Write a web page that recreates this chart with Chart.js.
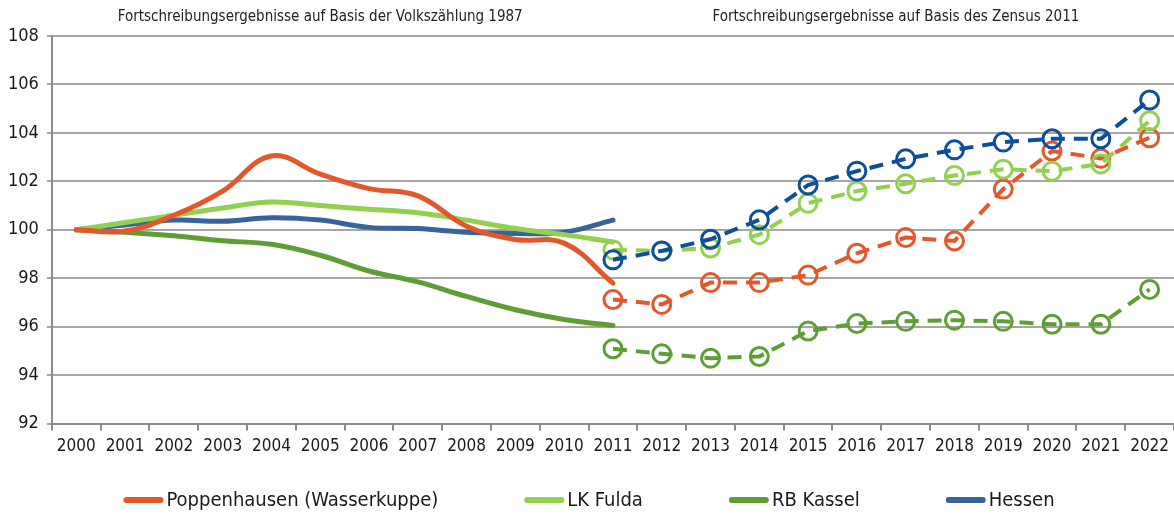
<!DOCTYPE html>
<html>
<head>
<meta charset="utf-8">
<script src="https://cdn.jsdelivr.net/npm/chart.js@4.4.1/dist/chart.umd.min.js"></script>
<style>
  html, body { margin: 0; padding: 0; background: #fff; overflow: hidden; width: 1174px; height: 516px; }
  /* etwas breiter als das Fenster, damit die Gitterlinien bis zum rechten Rand gehen */
  #wrap { width: 1186px; height: 516px; position: relative; }
  canvas { display: block; }
</style>
</head>
<body>
<div id="wrap"><canvas id="myChart"></canvas></div>
<script>
// Jahre (Kategorien)
const jahre = ['2000','2001','2002','2003','2004','2005','2006','2007','2008','2009','2010','2011',
               '2012','2013','2014','2015','2016','2017','2018','2019','2020','2021','2022'];

// Fortschreibung auf Basis der Volkszählung 1987 (2000-2011)
const poppenhausen87 = [100, 99.95, 100.6, 101.6, 103.05, 102.3, 101.7, 101.4, 100.15, 99.6, 99.45, 97.8];
const fulda87        = [100, 100.3, 100.6, 100.9, 101.15, 101.0, 100.85, 100.7, 100.4, 100.05, 99.8, 99.5];
const kassel87       = [100, 99.9, 99.75, 99.55, 99.4, 98.95, 98.3, 97.85, 97.25, 96.7, 96.3, 96.05];
const hessen87       = [100, 100.2, 100.4, 100.35, 100.5, 100.4, 100.1, 100.05, 99.9, 99.85, 99.9, 100.4];

// Fortschreibung auf Basis des Zensus 2011 (2011-2022)
const poppenhausen11 = [97.12, 96.92, 97.82, 97.82, 98.13, 99.03, 99.68, 99.54, 101.68, 103.25, 102.95, 103.8];
const fulda11        = [99.17, 99.13, 99.25, 99.8, 101.1, 101.6, 101.9, 102.24, 102.5, 102.42, 102.72, 104.5];
const kassel11       = [95.09, 94.88, 94.7, 94.77, 95.82, 96.13, 96.22, 96.27, 96.22, 96.1, 96.1, 97.54];
const hessen11       = [98.76, 99.13, 99.61, 100.41, 101.85, 102.42, 102.93, 103.3, 103.62, 103.76, 103.76, 105.36];

const titel87 = 'Fortschreibungsergebnisse auf Basis der Volkszählung 1987';
const titel11 = 'Fortschreibungsergebnisse auf Basis des Zensus 2011';

const schrift = "'Liberation Sans Narrow', 'DejaVu Sans Condensed', 'Liberation Sans', Arial, sans-serif";
const fensterBreite = 1174;

// 2000-2011 vorne, Rest leer ; 2011-2022 hinten
const vorne = (arr) => arr.concat(new Array(jahre.length - arr.length).fill(null));
const hinten = (arr) => new Array(jahre.length - arr.length).fill(null).concat(arr);

function linie(label, werte, farbe) {
  return {
    label: label,
    data: vorne(werte),
    borderColor: farbe,
    backgroundColor: farbe,
    borderWidth: 5,
    borderCapStyle: 'round',
    tension: 0.4,
    pointRadius: 0,
    inLegende: true
  };
}

function gestrichelt(label, werte, farbe) {
  return {
    label: label,
    data: hinten(werte),
    borderColor: farbe,
    backgroundColor: 'rgba(255,255,255,0)',
    borderWidth: 4,
    borderDash: [14, 9],
    tension: 0,
    pointRadius: 9,
    pointBorderWidth: 3,
    pointBorderColor: farbe,
    pointBackgroundColor: 'rgba(255,255,255,0)'
  };
}

const data = {
  labels: jahre,
  datasets: [
    linie('Poppenhausen (Wasserkuppe)', poppenhausen87, '#e2582b'),
    linie('LK Fulda', fulda87, '#92d050'),
    linie('RB Kassel', kassel87, '#5e9e37'),
    linie('Hessen', hessen87, '#38639b'),
    gestrichelt('Hessen 2011', hessen11, '#0d4f9a'),
    gestrichelt('LK Fulda 2011', fulda11, '#92d050'),
    gestrichelt('Poppenhausen 2011', poppenhausen11, '#e2582b'),
    gestrichelt('RB Kassel 2011', kassel11, '#5e9e37')
  ]
};

// Die zwei Überschriften über den Abschnitten + Legende unten
const beschriftung = {
  id: 'beschriftung',
  afterDraw(chart) {
    const ctx = chart.ctx;
    const x = chart.scales.x;
    ctx.save();
    ctx.font = '15px ' + schrift;
    ctx.fillStyle = '#222';
    ctx.textAlign = 'center';
    ctx.textBaseline = 'middle';
    ctx.fillText(titel87, x.getPixelForValue(5), 17);
    ctx.fillText(titel11, x.getPixelForValue(16.8), 17);

    // Legende: Linie 40px, dann Text, Abstand 86px
    const eintraege = chart.data.datasets.filter(d => d.inLegende);
    ctx.font = '20px ' + schrift;
    ctx.textAlign = 'left';
    const linienLaenge = 40, luecke = 3, abstand = 86;
    const breiten = eintraege.map(d => linienLaenge + luecke + ctx.measureText(d.label).width);
    const gesamt = breiten.reduce((a, b) => a + b, 0) + abstand * (eintraege.length - 1);
    let px = (fensterBreite - gesamt) / 2 + 2;
    const py = 500;
    eintraege.forEach((d, i) => {
      ctx.strokeStyle = d.borderColor;
      ctx.lineWidth = 6;
      ctx.lineCap = 'round';
      ctx.beginPath();
      ctx.moveTo(px + 3, py);
      ctx.lineTo(px + linienLaenge - 3, py);
      ctx.stroke();
      ctx.fillStyle = '#1a1a1a';
      ctx.fillText(d.label, px + linienLaenge + luecke, py + 1);
      px += breiten[i] + abstand;
    });
    ctx.restore();
  }
};

const config = {
  type: 'line',
  data,
  options: {
    responsive: true,
    maintainAspectRatio: false,
    animation: false,
    layout: { padding: { top: 36, right: 0, left: 0, bottom: 53 } },
    scales: {
      x: {
        offset: true,
        grid: {
          offset: true,
          drawOnChartArea: false,
          drawTicks: true,
          tickLength: 7,
          color: '#8c8c8c',
          lineWidth: 2
        },
        border: { color: '#8c8c8c', width: 2 },
        ticks: {
          color: '#1a1a1a',
          font: { family: schrift, size: 17 },
          padding: 6,
          maxRotation: 0,
          autoSkip: false
        }
      },
      y: {
        min: 92,
        max: 108,
        ticks: {
          stepSize: 2,
          color: '#1a1a1a',
          font: { family: schrift, size: 18 },
          padding: 8
        },
        grid: {
          color: '#a6a6a6',
          lineWidth: 2,
          tickLength: 5
        },
        border: { color: '#8c8c8c', width: 2 }
      }
    },
    plugins: {
      legend: { display: false },
      tooltip: { enabled: false }
    }
  },
  plugins: [beschriftung]
};

const myChart = new Chart(document.getElementById('myChart'), config);
</script>
</body>
</html>
